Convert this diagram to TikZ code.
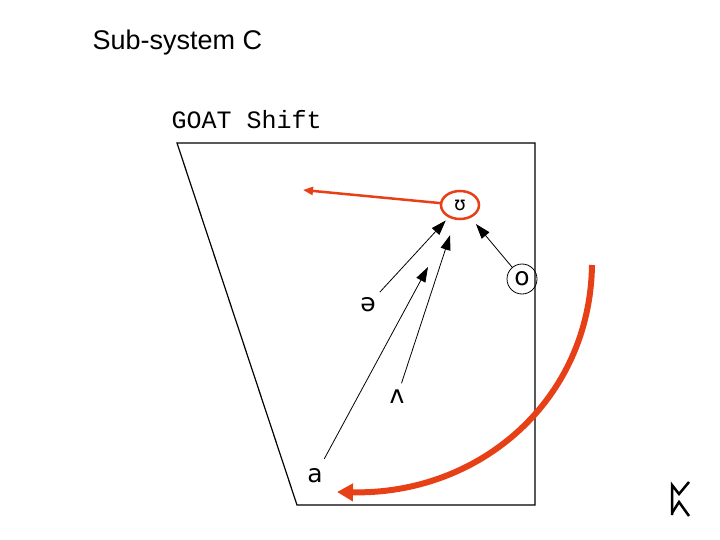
\documentclass[tikz,border=0pt]{standalone}
\usepackage{fontspec}
\setmainfont{Liberation Sans}
\newfontfamily\ipafont{DejaVu Sans}
\newfontfamily\goatfont{Liberation Mono}
\usetikzlibrary{
  shapes,
  shapes.geometric,
  arrows.meta
}
\definecolor{shiftred}{RGB}{232,64,22}

\begin{document}
\begin{tikzpicture}[x = 1pt, y = -1pt,
    vowel/.style = {font = \ipafont\fontsize{25}{25}\selectfont, inner sep = 1pt},
    push/.style = {-{Triangle[length = 15pt, width = 10pt]}, line width = 0.8pt},
    swing/.style = {shiftred, line width = 6pt, -{Triangle[length = 16pt, width = 17pt]}}]
    \useasboundingbox (0,0) rectangle (720,540);

    \node[anchor = base west, font = \fontsize{27}{27}\selectfont] (title) at (89,50) {Sub-system C};
    \node[anchor = base west, font = \goatfont\fontsize{25}{25}\selectfont] (goat) at (168,129) {GOAT Shift};

    % vowel space
    \draw[line width = 1.2pt] (177,143) -- (535,143) -- (535,505) -- (297,505) -- cycle;

    \node[vowel] (a) at (315,476) {a};
    \node[vowel] (schwa) at (368,305) {ə};
    \node[vowel] (wedge) at (397,397) {ʌ};
    \node[vowel, ellipse, draw = shiftred, line width = 2.5pt, inner sep = 0pt,
          minimum width = 38pt, minimum height = 28pt,
          font = \ipafont\fontsize{19}{19}\selectfont] (u) at (460,205) {ʊ};
    \node[vowel, circle, draw, line width = 0.8pt, minimum size = 30pt, inner sep = 0pt] (o) at (522,279) {o};

    \coordinate (aend) at (428,267);
    \coordinate (lefttip) at (303,190);
    \coordinate (swingstart) at (592,265);
    \coordinate (swingend) at (337,492);

    \draw[push, shorten <= 6pt, shorten >= 4pt] (schwa) -- (u);
    \draw[push, shorten <= 6pt, shorten >= 16pt] (wedge) -- (u);
    \draw[push, shorten >= 8pt] (o) -- (u);
    \draw[push, shorten <= 10pt] (a) -- (aend);

    \draw[shiftred, line width = 2.5pt, -{Triangle[length = 10pt, width = 8pt]}] (u) -- (lefttip);
    \draw[swing] (swingstart) .. controls (590,400) and (480,495) .. (swingend);

    % rune
    \draw[line width = 2.5pt] (689,482) -- (679,494) -- (672,485) -- (672,515);
    \draw[line width = 2.5pt] (672,513) -- (679,502) -- (689,516);
\end{tikzpicture}
\end{document}
